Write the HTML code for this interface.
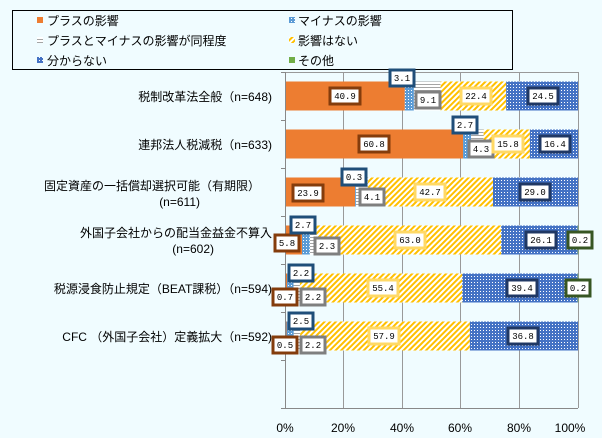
<!DOCTYPE html>
<html><head><meta charset="utf-8"><style>
body{margin:0;background:#f0fcff;}
svg{display:block;font-family:"Liberation Sans","Noto Sans CJK JP",sans-serif;}
.c{font-size:12px;fill:#000;}
.l text{font-size:9px;font-family:"Liberation Mono",monospace;fill:#000;text-anchor:middle;}
.l rect{fill:#fff;stroke-width:3;height:16px;}
</style></head><body>
<svg width="602" height="438" viewBox="0 0 602 438">
<defs>
<pattern id="pb" width="3" height="3" patternUnits="userSpaceOnUse"><rect width="3" height="3" fill="#5b9bd5"/><rect width="1" height="1" fill="#fff"/></pattern>
<pattern id="pg" width="3" height="3" patternUnits="userSpaceOnUse"><rect width="3" height="3" fill="#fff"/><rect width="3" height="1" fill="#a5a5a5"/></pattern>
<pattern id="py" width="4" height="4" patternUnits="userSpaceOnUse" patternTransform="rotate(45)"><rect width="4" height="4" fill="#fff"/><rect width="2" height="4" fill="#ffc000"/></pattern>
<pattern id="pn" width="3" height="3" patternUnits="userSpaceOnUse"><rect width="3" height="3" fill="#4472c4"/><rect width="1" height="1" fill="#fff"/></pattern>
</defs>
<rect width="602" height="438" fill="#f0fcff"/>
<rect x="12.5" y="10.5" width="500" height="59" fill="#f0fcff" stroke="#000"/>
<g class="c">
<rect x="37" y="17" width="6" height="6" fill="#ed7d31"/><text x="47" y="25">プラスの影響</text>
<rect x="289" y="17" width="6" height="6" fill="url(#pb)"/><text x="298" y="25">マイナスの影響</text>
<rect x="37" y="37" width="6" height="6" fill="url(#pg)"/><text x="47" y="45">プラスとマイナスの影響が同程度</text>
<rect x="289" y="37" width="6" height="6" fill="url(#py)"/><text x="298" y="45">影響はない</text>
<rect x="37" y="57" width="6" height="6" fill="url(#pn)"/><text x="47" y="65">分からない</text>
<rect x="289" y="57" width="6" height="6" fill="#70ad47"/><text x="298" y="65">その他</text>
</g>
<g stroke="#999" stroke-width="1">
<line x1="343.5" y1="72" x2="343.5" y2="408"/><line x1="402.5" y1="72" x2="402.5" y2="408"/>
<line x1="460.5" y1="72" x2="460.5" y2="408"/><line x1="519.5" y1="72" x2="519.5" y2="408"/>
<line x1="578.5" y1="72" x2="578.5" y2="408"/><line x1="285" y1="72.5" x2="578" y2="72.5"/>
</g>
<g>
<rect x="285" y="81.5" width="119.8" height="29" fill="#ed7d31"/>
<rect x="404.8" y="81.5" width="9.1" height="29" fill="url(#pb)"/>
<rect x="413.9" y="81.5" width="26.7" height="29" fill="url(#pg)"/>
<rect x="440.6" y="81.5" width="65.6" height="29" fill="url(#py)"/>
<rect x="506.2" y="81.5" width="71.8" height="29" fill="url(#pn)"/>

<rect x="285" y="129.5" width="178.1" height="29" fill="#ed7d31"/>
<rect x="463.1" y="129.5" width="7.9" height="29" fill="url(#pb)"/>
<rect x="471" y="129.5" width="12.6" height="29" fill="url(#pg)"/>
<rect x="483.6" y="129.5" width="46.3" height="29" fill="url(#py)"/>
<rect x="529.9" y="129.5" width="48.1" height="29" fill="url(#pn)"/>

<rect x="285" y="177.5" width="70" height="29" fill="#ed7d31"/>
<rect x="355" y="177.5" width="0.9" height="29" fill="url(#pb)"/>
<rect x="355.9" y="177.5" width="12" height="29" fill="url(#pg)"/>
<rect x="367.9" y="177.5" width="125.1" height="29" fill="url(#py)"/>
<rect x="493" y="177.5" width="85" height="29" fill="url(#pn)"/>

<rect x="285" y="225.5" width="17" height="29" fill="#ed7d31"/>
<rect x="302" y="225.5" width="7.9" height="29" fill="url(#pb)"/>
<rect x="309.9" y="225.5" width="6.7" height="29" fill="url(#pg)"/>
<rect x="316.6" y="225.5" width="184.6" height="29" fill="url(#py)"/>
<rect x="501.2" y="225.5" width="76.5" height="29" fill="url(#pn)"/>
<rect x="577.7" y="225.5" width="0.6" height="29" fill="#70ad47"/>

<rect x="285" y="273.5" width="2.1" height="29" fill="#ed7d31"/>
<rect x="287.1" y="273.5" width="6.4" height="29" fill="url(#pb)"/>
<rect x="293.5" y="273.5" width="6.4" height="29" fill="url(#pg)"/>
<rect x="299.9" y="273.5" width="162.4" height="29" fill="url(#py)"/>
<rect x="462.3" y="273.5" width="115.4" height="29" fill="url(#pn)"/>
<rect x="577.7" y="273.5" width="0.6" height="29" fill="#70ad47"/>

<rect x="285" y="321.5" width="1.5" height="29" fill="#ed7d31"/>
<rect x="286.5" y="321.5" width="7.3" height="29" fill="url(#pb)"/>
<rect x="293.8" y="321.5" width="6.4" height="29" fill="url(#pg)"/>
<rect x="300.2" y="321.5" width="169.7" height="29" fill="url(#py)"/>
<rect x="469.9" y="321.5" width="108.1" height="29" fill="url(#pn)"/>
</g>
<g stroke="#888"><line x1="285.5" y1="72" x2="285.5" y2="408"/><line x1="285" y1="408.5" x2="578" y2="408.5"/>
<line x1="281" y1="72.5" x2="285" y2="72.5"/><line x1="281" y1="120.5" x2="285" y2="120.5"/><line x1="281" y1="168.5" x2="285" y2="168.5"/><line x1="281" y1="216.5" x2="285" y2="216.5"/><line x1="281" y1="264.5" x2="285" y2="264.5"/><line x1="281" y1="312.5" x2="285" y2="312.5"/><line x1="281" y1="360.5" x2="285" y2="360.5"/><line x1="281" y1="408.5" x2="285" y2="408.5"/></g>
<g class="c" text-anchor="end">
<text x="272" y="101">税制改革法全般（n=648)</text>
<text x="272" y="149">連邦法人税減税（n=633)</text>
<text x="260" y="190">固定資産の一括償却選択可能（有期限）</text>
<text x="200" y="206">(n=611)</text>
<text x="272" y="237">外国子会社からの配当金益金不算入</text>
<text x="214" y="253">(n=602)</text>
<text x="272" y="293">税源浸食防止規定（BEAT課税）（n=594)</text>
<text x="272" y="341">CFC （外国子会社）定義拡大（n=592)</text>
</g>
<g class="c" text-anchor="middle">
<text x="285" y="432">0%</text><text x="343" y="432">20%</text><text x="402" y="432">40%</text><text x="460" y="432">60%</text><text x="519" y="432">80%</text><text x="570" y="432">100%</text>
</g>
<g class="l">
<rect x="330" y="88" width="30" stroke="#843c0c"/><text x="345" y="99">40.9</text>
<rect x="390" y="70" width="24" stroke="#1f4e79"/><text x="402" y="81">3.1</text>
<rect x="416" y="92" width="24" stroke="#7f7f7f"/><text x="428" y="103">9.1</text>
<rect x="461" y="88" width="30" stroke="#ffd966"/><text x="476" y="99">22.4</text>
<rect x="528" y="88" width="30" stroke="#203864"/><text x="543" y="99">24.5</text>

<rect x="359" y="136" width="30" stroke="#843c0c"/><text x="374" y="147">60.8</text>
<rect x="453" y="117" width="24" stroke="#1f4e79"/><text x="465" y="128">2.7</text>
<rect x="469" y="141" width="24" stroke="#7f7f7f"/><text x="481" y="152">4.3</text>
<rect x="493" y="136" width="30" stroke="#ffd966"/><text x="508" y="147">15.8</text>
<rect x="540" y="136" width="30" stroke="#203864"/><text x="555" y="147">16.4</text>

<rect x="293" y="185" width="30" stroke="#843c0c"/><text x="308" y="196">23.9</text>
<rect x="342" y="169" width="24" stroke="#1f4e79"/><text x="354" y="180">0.3</text>
<rect x="360" y="189" width="24" stroke="#7f7f7f"/><text x="372" y="200">4.1</text>
<rect x="415" y="184" width="30" stroke="#ffd966"/><text x="430" y="195">42.7</text>
<rect x="520" y="184" width="30" stroke="#203864"/><text x="535" y="195">29.0</text>

<rect x="275" y="235" width="24" stroke="#843c0c"/><text x="287" y="246">5.8</text>
<rect x="291" y="217" width="24" stroke="#1f4e79"/><text x="303" y="228">2.7</text>
<rect x="315" y="238" width="24" stroke="#7f7f7f"/><text x="327" y="249">2.3</text>
<rect x="395" y="232" width="30" stroke="#ffd966"/><text x="410" y="243">63.0</text>
<rect x="526" y="232" width="30" stroke="#203864"/><text x="541" y="243">26.1</text>
<rect x="568" y="232" width="24" stroke="#375623"/><text x="580" y="243">0.2</text>

<rect x="273" y="289" width="24" stroke="#843c0c"/><text x="285" y="300">0.7</text>
<rect x="289" y="265" width="24" stroke="#1f4e79"/><text x="301" y="276">2.2</text>
<rect x="301" y="289" width="24" stroke="#7f7f7f"/><text x="313" y="300">2.2</text>
<rect x="368" y="280" width="30" stroke="#ffd966"/><text x="383" y="291">55.4</text>
<rect x="507" y="280" width="30" stroke="#203864"/><text x="522" y="291">39.4</text>
<rect x="566" y="280" width="24" stroke="#375623"/><text x="578" y="291">0.2</text>

<rect x="273" y="337" width="24" stroke="#843c0c"/><text x="285" y="348">0.5</text>
<rect x="289" y="313" width="24" stroke="#1f4e79"/><text x="301" y="324">2.5</text>
<rect x="301" y="337" width="24" stroke="#7f7f7f"/><text x="313" y="348">2.2</text>
<rect x="369" y="328" width="30" stroke="#ffd966"/><text x="384" y="339">57.9</text>
<rect x="508" y="328" width="30" stroke="#203864"/><text x="523" y="339">36.8</text>
</g>
</svg>
</body></html>
